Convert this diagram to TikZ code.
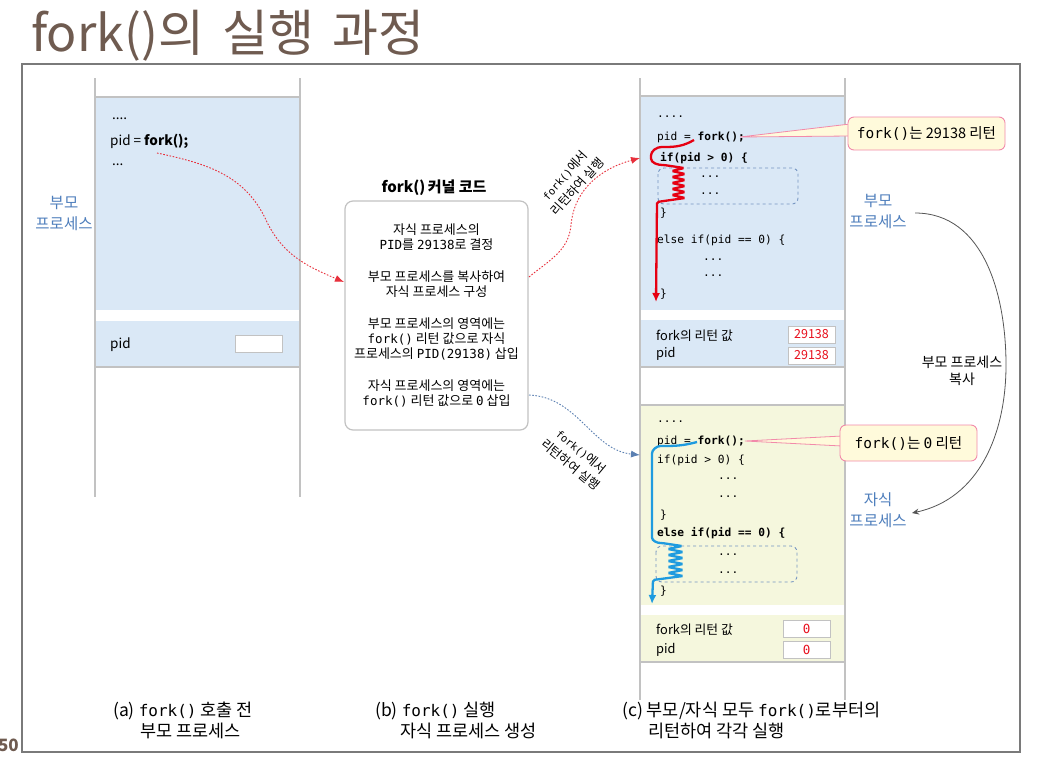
\documentclass[tikz,border=0pt]{standalone}
\usepackage{fontspec}
\setmainfont{Noto Sans CJK KR}
\newfontfamily\mono{DejaVu Sans Mono}
\usetikzlibrary{arrows.meta,calc}

\definecolor{titlebrown}{HTML}{6F5B50}
\definecolor{regblue}{HTML}{DAE8F6}
\definecolor{regyellow}{HTML}{F5F7DD}
\definecolor{colgray}{HTML}{C2C2C2}
\definecolor{framegray}{HTML}{7A7A7A}
\definecolor{lblblue}{HTML}{4E7EBC}
\definecolor{pathred}{HTML}{E60012}
\definecolor{pathblue}{HTML}{1F9BDF}
\definecolor{dotred}{HTML}{E8303C}
\definecolor{dotblue}{HTML}{5B80B2}
\definecolor{dashbox}{HTML}{7595C2}
\definecolor{callfill}{HTML}{FFFADB}
\definecolor{callpink}{HTML}{F28AAA}
\definecolor{valred}{HTML}{E8101E}
\definecolor{copygray}{HTML}{555555}

\tikzset{
  acode/.style={anchor=west, inner sep=0pt, font=\fontsize{13.5}{16}\selectfont},
  ccode/.style={anchor=west, inner sep=0pt, font=\mono\fontsize{11.2}{13}\selectfont},
  ctext/.style={anchor=west, inner sep=0pt, font=\fontsize{12.8}{15}\selectfont},
  sidelbl/.style={text=lblblue, align=center, inner sep=1pt, font=\fontsize{15.5}{21}\selectfont},
  valbox/.style={draw=colgray, fill=white, line width=1pt, minimum width=47pt, minimum height=17pt, inner sep=0pt, text=valred, font=\fontsize{12.5}{14}\selectfont},
  callout/.style={draw=callpink, fill=callfill, rounded corners=6pt, line width=0.9pt, inner sep=0pt, font=\fontsize{14.5}{16}\selectfont},
  pointer/.style={draw=callpink, fill=callfill, line width=0.8pt},
  dashbx/.style={draw=dashbox, dashed, rounded corners=6pt, line width=0.9pt},
  regline/.style={draw=colgray, line width=1.6pt},
  dotarrow/.style={dash pattern=on 1.6pt off 1.6pt, line width=0.9pt, -{Latex[length=9pt,width=7pt]}},
  flow/.style={line width=2.3pt, -{Latex[length=9pt,width=8pt]}},
  copyarrow/.style={draw=copygray, line width=0.8pt, -{Stealth[length=7pt,width=6pt]}},
  rotlbl/.style={align=center, inner sep=0pt, font=\fontsize{12.5}{17}\selectfont},
  caption/.style={anchor=west, inner sep=0pt, font=\fontsize{17.5}{20}\selectfont},
}
\newcommand{\capmn}[1]{{\mono\fontsize{16}{18}\selectfont #1}}

\begin{document}
\begin{tikzpicture}[x=1pt,y=-1pt]
\useasboundingbox (0,0) rectangle (1040,774);
\fill[white] (0,0) rectangle (1040,774);

% title and page number
\node[anchor=base west, inner sep=0pt, text=titlebrown, font=\fontsize{50}{56}\selectfont] (title) at (31,51) {fork()의\hspace{0.36em}실행\hspace{0.36em}과정};
\node[anchor=east, inner sep=0pt, text=titlebrown, font=\bfseries\fontsize{17}{20}\selectfont] (pgnum) at (19,745) {50};

% frame
\draw[draw=framegray, line width=1.1pt] (22,64) rectangle (1020,752);

% ---------- panel (a) ----------
\fill[regblue] (95,97) rectangle (300,310);
\fill[regblue] (95,321) rectangle (300,367);
\draw[regline] (95,97) -- (300,97);
\draw[regline] (95,367) -- (300,367);
\draw[regline] (95,78) -- (95,497);
\draw[regline] (300,78) -- (300,497);

\node[acode] (a1) at (112,119) {....};
\node[acode] (a2) at (110,141) {pid = \textbf{fork();}};
\node[acode] (a3) at (112,165) {...};
\node[acode] (apid) at (110,345) {pid};
\node[valbox] (apidbox) at (259,344) {};
\node[sidelbl] (alab) at (64,213) {부모\\프로세스};

% ---------- panel (b) ----------
\node[inner sep=0pt, font=\bfseries\fontsize{15}{17}\selectfont] (ktitle) at (434,188) {fork()\,커널 코드};
\node[draw=colgray, line width=1.2pt, rounded corners=8pt, minimum width=183pt, minimum height=229pt] (kbox) at (436.5,315.5) {};
\node[align=center, inner sep=0pt, font=\fontsize{13}{15.4}\selectfont] (ktext) at (436.5,315.5)
 {자식 프로세스의\\
  {\mono\fontsize{12.5}{15}\selectfont PID}를 {\mono\fontsize{12.5}{15}\selectfont 29138}로 결정\\[16pt]
  부모 프로세스를 복사하여\\
  자식 프로세스 구성\\[16pt]
  부모 프로세스의 영역에는\\
  {\mono\fontsize{12.5}{15}\selectfont fork()} 리턴 값으로 자식\\
  프로세스의 {\mono\fontsize{12.5}{15}\selectfont PID(29138)} 삽입\\[16pt]
  자식 프로세스의 영역에는\\
  {\mono\fontsize{12.5}{15}\selectfont fork()} 리턴 값으로 {\mono\fontsize{12.5}{15}\selectfont 0} 삽입};

% ---------- panel (c) ----------
\fill[regblue] (640,96) rectangle (845,310);
\fill[regblue] (640,320) rectangle (845,367);
\fill[regyellow] (640,405) rectangle (845,605);
\fill[regyellow] (640,615) rectangle (845,662);
\draw[regline] (640,96) -- (845,96);
\draw[regline] (640,367) -- (845,367);
\draw[regline] (640,405) -- (845,405);
\draw[regline] (640,662) -- (845,662);
\draw[regline] (640,78) -- (640,700);
\draw[regline] (845,78) -- (845,700);

% parent code
\draw[dashbx] (658,168) rectangle (798,204);
\node[ccode] (p1) at (657,117) {....};
\node[ccode] (p2) at (657,137) {pid = \textbf{fork();}};
\node[ccode] (p3) at (660,158) {\textbf{if(pid > 0) \{}};
\node[ccode] (p4) at (700,177) {...};
\node[ccode] (p5) at (700,194) {...};
\node[ccode] (p6) at (660,213) {\}};
\node[ccode] (p7) at (657,240) {else if(pid == 0) \{};
\node[ccode] (p8) at (703,260) {...};
\node[ccode] (p9) at (703,276) {...};
\node[ccode] (p10) at (660,294) {\}};
\node[ctext] (pret) at (656,336) {fork의 리턴 값};
\node[ctext] (ppid) at (656,354) {pid};
\node[valbox] (pretbox) at (811.5,334.5) {29138};
\node[valbox] (ppidbox) at (811.5,355.5) {29138};

% child code
\draw[dashbx] (656,546) rectangle (797,582);
\node[ccode] (c1) at (657,422) {....};
\node[ccode] (c2) at (657,441) {pid = \textbf{fork();}};
\node[ccode] (c3) at (657,460) {if(pid > 0) \{};
\node[ccode] (c4) at (718,479) {...};
\node[ccode] (c5) at (718,497) {...};
\node[ccode] (c6) at (660,515) {\}};
\node[ccode] (c7) at (657,533) {\textbf{else if(pid == 0) \{}};
\node[ccode] (c8) at (718,555) {...};
\node[ccode] (c9) at (718,573) {...};
\node[ccode] (c10) at (660,591) {\}};
\node[ctext] (cret) at (656,630) {fork의 리턴 값};
\node[ctext] (cpid) at (656,650) {pid};
\node[valbox, font=\mono\fontsize{12.5}{14}\selectfont] (cretbox) at (806.5,628.5) {0};
\node[valbox, font=\mono\fontsize{12.5}{14}\selectfont] (cpidbox) at (806.5,649.5) {0};

% side labels
\node[sidelbl] (plbl) at (878,211) {부모\\프로세스};
\node[sidelbl] (clbl) at (878,510) {자식\\프로세스};
\node[align=center, inner sep=0pt, font=\fontsize{14}{17}\selectfont] (copylbl) at (962,371) {부모 프로세스\\복사};

% copy arrow
\coordinate (cpstart) at (915,213);
\coordinate (cpmid) at (1006,365);
\coordinate (cpend) at (912,513);
\draw[copyarrow] (cpstart) to[out=0,in=90] (cpmid) to[out=-90,in=12] (cpend);

% red flow (parent)
\coordinate (pfork) at (694,140);
\coordinate (pdown) at (656,302);
\draw[flow, pathred, rounded corners=1.6pt] (pfork) to[out=-150,in=0] (663,147) to[out=180,in=90] (651,157)
  to[out=-90,in=180] (664,165) -- (684,168)
  -- (672,171) -- (685,174) -- (672,177) -- (685,180) -- (672,183) -- (685,186)
  -- (672,189) -- (685,192) -- (672,195) -- (685,198) -- (657,202) -- (pdown);

% blue flow (child)
\coordinate (cfork) at (697,442);
\coordinate (cdown) at (652,604);
\draw[flow, pathblue, rounded corners=1.6pt] (cfork) to[out=-165,in=0] (662,446) to[out=180,in=90] (652,455)
  -- (652,536) to[out=-90,in=180] (662,543) -- (682,546)
  -- (668,549) -- (683,552) -- (668,555) -- (683,558) -- (668,561) -- (683,564)
  -- (668,567) -- (683,570) -- (668,573) -- (683,576) -- (653,580) -- (cdown);

% callouts
\coordinate (ptip1) at (740,137);
\coordinate (ptip2) at (745,441);
\filldraw[pointer] (ptip1) -- (850,124) -- (850,136) -- cycle;
\node[callout, minimum width=157pt, minimum height=33pt] (call1) at (926.5,133.5) {{\mono fork()}는 29138 리턴};
\filldraw[pointer] (ptip2) -- (842,436) -- (842,446) -- cycle;
\node[callout, minimum width=137pt, minimum height=36pt] (call2) at (908.5,443) {{\mono fork()}는 {\mono 0} 리턴};

% dotted connectors
\coordinate (afork) at (157,153);
\coordinate (kin) at (344,282);
\coordinate (amid) at (266,220);
\draw[dotarrow, dotred] (afork) to[out=-12,in=115] (amid) to[out=-65,in=157] (kin);

\coordinate (kout1) at (529,277);
\coordinate (kmid1) at (571,225);
\coordinate (ptarget) at (640,158);
\draw[dotarrow, dotred] (kout1) to[out=40,in=-95] (kmid1) to[out=85,in=195] (ptarget);

\coordinate (kout2) at (529,395);
\coordinate (ctarget) at (640,455);
\draw[dotarrow, dotblue] (kout2) .. controls (578,397) and (592,450) .. (ctarget);

\node[rotlbl, rotate=48] (lbl1) at (571,181) {{\mono\fontsize{10.5}{12}\selectfont fork()}에서\\리턴하여 실행};
\node[rotlbl, rotate=-40] (lbl2) at (576,458) {{\mono\fontsize{10.5}{12}\selectfont fork()}에서\\리턴하여 실행};

% captions
\node[caption] (capa1) at (113,711) {(a) \capmn{fork()} 호출 전};
\node[caption] (capa2) at (140,731) {부모 프로세스};
\node[caption] (capb1) at (375,711) {(b) \capmn{fork()} 실행};
\node[caption] (capb2) at (400,731) {자식 프로세스 생성};
\node[caption] (capc1) at (622,711) {(c) 부모/자식 모두 \capmn{fork()}로부터의};
\node[caption] (capc2) at (648,731) {리턴하여 각각 실행};
\end{tikzpicture}
\end{document}
